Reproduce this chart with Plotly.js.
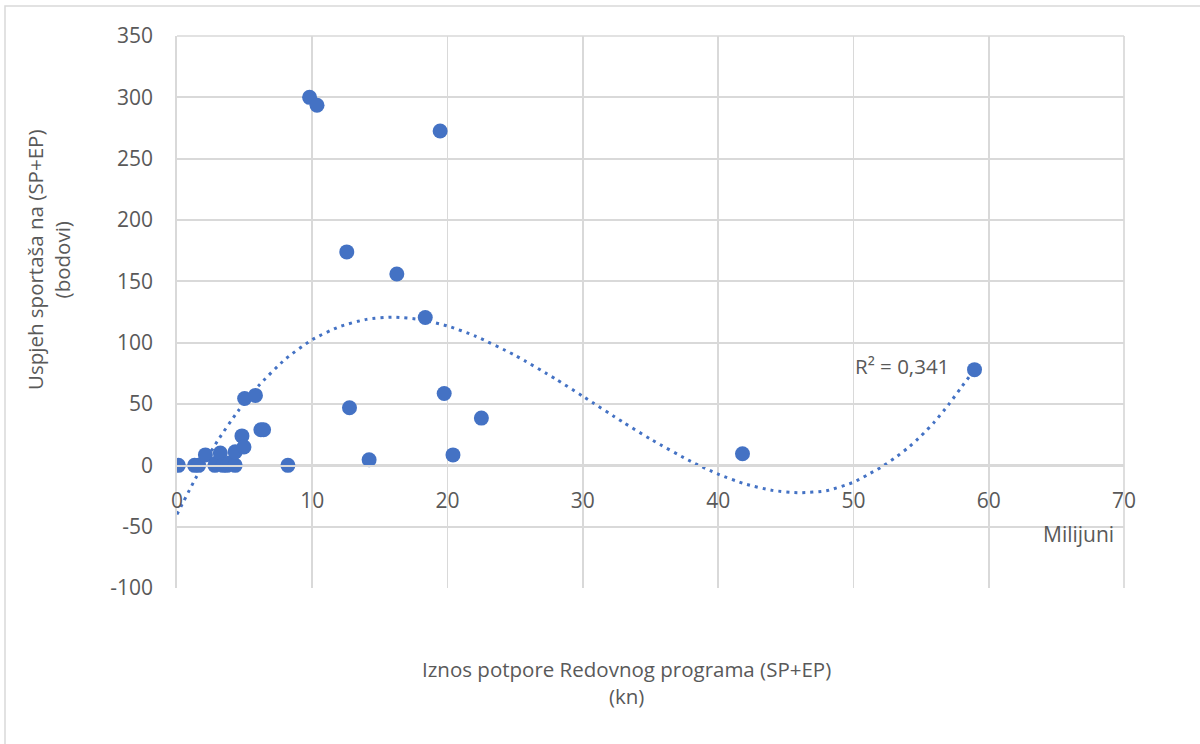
<!DOCTYPE html>
<html>
<head>
<meta charset="utf-8">
<script src="https://cdn.plot.ly/plotly-3.0.1.min.js"></script>
<style>html,body{margin:0;padding:0;background:#fff;}#chart{width:1200px;height:744px;}</style>
</head>
<body>
<div id="chart"></div>
<script>
// Scatter data: support amount (millions kn) vs. athletes' success (points)
const supportMillions = [0.1, 1.3, 1.6, 2.1, 2.8, 2.95, 3.2, 3.4, 3.7, 3.9, 4.3, 4.3, 4.8, 4.95, 5.0, 5.8, 6.2, 6.4, 8.2, 9.8, 10.35, 12.55, 12.75, 14.2, 16.25, 18.35, 19.45, 19.75, 20.4, 22.5, 41.8, 58.95];
const successPoints = [0, 0, 0, 8.5, 0, 2, 10, 0, 0, 2, 0, 11, 24, 15, 54.5, 57, 29, 29, 0, 300, 293.5, 174, 47, 4.5, 156, 120.5, 272.5, 58.5, 8.5, 38.5, 9.5, 78];

// Polynomial trendline
const trendX = [0, 1.5, 3, 4.5, 6, 8, 10, 12, 14, 16, 18, 20, 22, 25, 28, 30, 33, 35, 38, 40, 42, 44, 46, 48, 50, 51, 52, 53, 54, 55, 56, 57, 58, 58.95];
const trendY = [-40, -8, 20, 44, 64.5, 86.5, 102.5, 113, 119, 120.8, 118.8, 113.6, 105.6, 89.6, 70.3, 56.3, 35, 21.4, 3.1, -7.2, -15.2, -20.4, -22.3, -20.7, -13.8, -8, -1.8, 5.5, 14, 24, 35.5, 49, 64, 78];

const xTicks = [0, 10, 20, 30, 40, 50, 60, 70];
const yTicks = [-100, -50, 0, 50, 100, 150, 200, 250, 300, 350];

const rSquaredLabel = 'R² = 0,341';
const xTitle = 'Iznos potpore Redovnog programa (SP+EP)<br>(kn)';
const yTitle = 'Uspjeh sportaša na (SP+EP)<br>(bodovi)';
const unitsLabel = 'Milijuni';

const blue = '#4472C4';
const grid = '#d9d9d9';
const txt = '#595959';
const FONT = 'Open Sans, Noto Sans, sans-serif';

const traces = [
  {
    type: 'scatter', mode: 'lines', x: trendX, y: trendY,
    line: {color: blue, width: 3, dash: '3px,5px', shape: 'spline', smoothing: 0.6},
    hoverinfo: 'skip', showlegend: false
  },
  {
    type: 'scatter', mode: 'markers', x: supportMillions, y: successPoints,
    marker: {color: blue, size: 15, line: {width: 0}},
    showlegend: false
  }
];

const yMin = yTicks[0], yMax = yTicks[yTicks.length - 1];
const zeroPos = (0 - yMin) / (yMax - yMin);

const layout = {
  width: 1200, height: 744,
  margin: {l: 177, r: 76, t: 36, b: 156, pad: 0},
  paper_bgcolor: '#ffffff', plot_bgcolor: '#ffffff',
  font: {family: FONT, color: txt, size: 21},
  showlegend: false,
  xaxis: {
    range: [xTicks[0], xTicks[xTicks.length - 1]],
    tickvals: xTicks, ticktext: xTicks.map(String),
    showgrid: true, gridcolor: grid, gridwidth: 1.7,
    zeroline: false, showline: true, linecolor: grid, linewidth: 1.7,
    anchor: 'free', position: zeroPos,
    ticks: 'outside', ticklen: 16, tickcolor: 'rgba(0,0,0,0)',
    tickfont: {family: FONT, color: txt, size: 21}
  },
  yaxis: {
    range: [yMin, yMax],
    tickvals: yTicks, ticktext: yTicks.map(String),
    showgrid: true, gridcolor: grid, gridwidth: 1.7,
    zeroline: false, showline: true, linecolor: grid, linewidth: 1.7,
    ticks: 'outside', ticklen: 18, tickcolor: 'rgba(0,0,0,0)',
    tickfont: {family: FONT, color: txt, size: 21}
  },
  shapes: [
    {type: 'rect', xref: 'paper', yref: 'paper', x0: (5 - 177) / 947, x1: 1.2, y0: -0.5, y1: (588 - 6) / 552,
     line: {color: grid, width: 1.5}, fillcolor: 'rgba(0,0,0,0)', layer: 'below'},
    {type: 'line', xref: 'paper', yref: 'paper', x0: 0, x1: 1, y0: 1, y1: 1, line: {color: grid, width: 1.7}},
    {type: 'line', xref: 'paper', yref: 'paper', x0: 1, x1: 1, y0: 0, y1: 1, line: {color: grid, width: 1.7}}
  ],
  annotations: [
    {text: rSquaredLabel, xref: 'x', yref: 'y', x: 57.2, y: 81, showarrow: false,
     xanchor: 'right', yanchor: 'middle', font: {family: FONT, size: 20.5, color: txt}},
    {text: unitsLabel, xref: 'paper', yref: 'paper', x: (1116 - 177) / 947, y: (588 - 534) / 552, showarrow: false,
     xanchor: 'right', yanchor: 'middle', font: {family: FONT, size: 21, color: txt}},
    {text: xTitle, xref: 'paper', yref: 'paper', x: (626 - 177) / 947, y: (588 - 682) / 552, showarrow: false,
     xanchor: 'center', yanchor: 'middle', font: {family: FONT, size: 20.5, color: txt}},
    {text: yTitle, xref: 'paper', yref: 'paper', x: (48 - 177) / 947, y: (588 - 260) / 552, showarrow: false,
     textangle: -90, xanchor: 'center', yanchor: 'middle', font: {family: FONT, size: 20.5, color: txt}}
  ]
};

Plotly.newPlot('chart', traces, layout, {displayModeBar: false, staticPlot: true});
</script>
</body>
</html>
